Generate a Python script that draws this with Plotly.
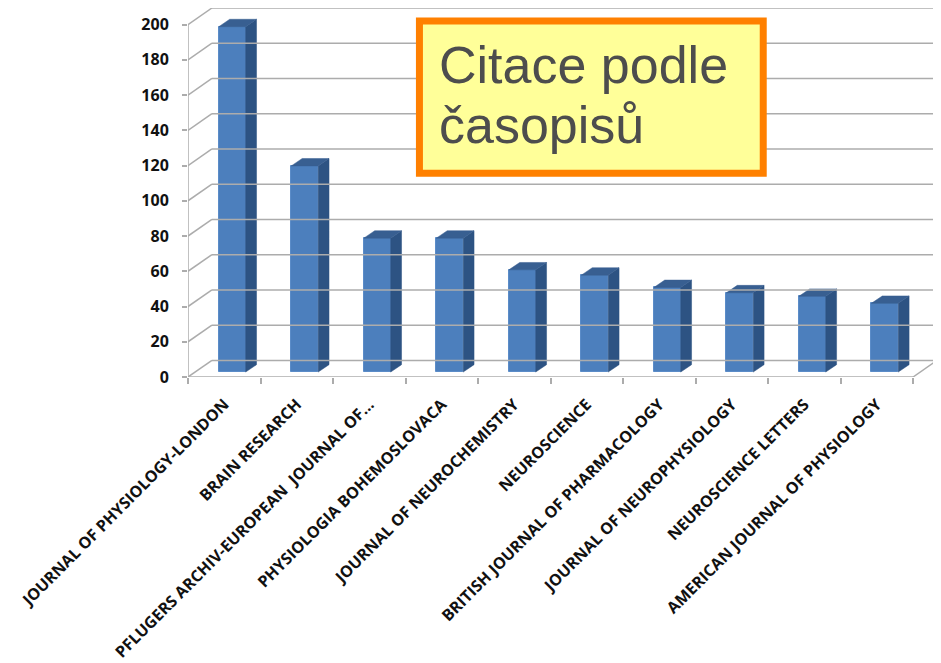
import plotly.graph_objects as go

journals = [
    "JOURNAL OF PHYSIOLOGY-LONDON",
    "BRAIN RESEARCH",
    "PFLUGERS ARCHIV-EUROPEAN  JOURNAL OF...",
    "PHYSIOLOGIA BOHEMOSLOVACA",
    "JOURNAL OF NEUROCHEMISTRY",
    "NEUROSCIENCE",
    "BRITISH JOURNAL OF PHARMACOLOGY",
    "JOURNAL OF NEUROPHYSIOLOGY",
    "NEUROSCIENCE LETTERS",
    "AMERICAN JOURNAL OF PHYSIOLOGY",
]
citations = [196, 117, 76, 76, 58, 55, 48, 45, 43, 39]
y_ticks = [0, 20, 40, 60, 80, 100, 120, 140, 160, 180, 200]

# fake 3-D geometry (data units)
DX, DY = 0.33, 9.4          # wall depth
BX, BY = 0.15, 4.2          # bar depth
BASE = 2.8                  # bar sits a little behind the front edge
OFF, W = 0.11, 0.37         # front face offset and width
GRID = "#acacac"

n = len(journals)
xs = list(range(n))

fig = go.Figure()

# walls / gridlines
shapes = []
for v in y_ticks:
    shapes.append(dict(type="line", x0=-0.5, y0=v, x1=-0.5 + DX, y1=v + DY,
                       line=dict(color=GRID, width=1.5)))
    shapes.append(dict(type="line", x0=-0.5 + DX, y0=v + DY, x1=n - 0.5 + DX, y1=v + DY,
                       line=dict(color=GRID, width=1.5)))
shapes.append(dict(type="line", x0=-0.5, y0=0, x1=n - 0.5, y1=0,
                   line=dict(color=GRID, width=1.5)))
shapes.append(dict(type="line", x0=n - 0.5, y0=0, x1=n - 0.5 + DX, y1=DY,
                   line=dict(color=GRID, width=1.5)))
shapes.append(dict(type="line", x0=-0.5, y0=0, x1=-0.5, y1=y_ticks[-1],
                   line=dict(color=GRID, width=1.5)))

# title box
shapes.append(dict(type="rect", xref="paper", yref="paper",
                   x0=0.309, x1=0.768, y0=0.552, y1=0.965, layer="above",
                   fillcolor="#ffff99", line=dict(color="#ff8000", width=7)))

# front faces
fig.add_trace(go.Bar(
    x=[i + OFF for i in xs], y=citations, base=BASE, width=W,
    marker=dict(color="#4c7fbd", line=dict(color="#5b8cc8", width=1)),
    hoverinfo="skip",
))

side_x, side_y, top_x, top_y = [], [], [], []
for i, v in zip(xs, citations):
    xl = i + OFF - W / 2
    xr = i + OFF + W / 2
    side_x += [xr, xr + BX, xr + BX, xr, xr, None]
    side_y += [BASE, BASE + BY, BASE + v + BY, BASE + v, BASE, None]
    top_x += [xl, xl + BX, xr + BX, xr, xl, None]
    top_y += [BASE + v, BASE + v + BY, BASE + v + BY, BASE + v, BASE + v, None]

fig.add_trace(go.Scatter(x=side_x, y=side_y, mode="lines", fill="toself",
                         fillcolor="#2d5383", line=dict(color="#2d5383", width=0.5),
                         hoverinfo="skip"))
fig.add_trace(go.Scatter(x=top_x, y=top_y, mode="lines", fill="toself",
                         fillcolor="#385f91", line=dict(color="#385f91", width=0.5),
                         hoverinfo="skip"))

title_font = dict(family="Liberation Sans, Arial, sans-serif", size=52, color="#4d4d4d")
for text, ypos in [("Citace podle", 0.846), ("časopisů", 0.683)]:
    fig.add_annotation(xref="paper", yref="paper", x=0.333, y=ypos,
                       xanchor="left", yanchor="middle", text=text,
                       showarrow=False, font=title_font)

fig.update_layout(
    width=941, height=663,
    margin=dict(l=180, r=12, t=0, b=294),
    paper_bgcolor="white", plot_bgcolor="white",
    showlegend=False, shapes=shapes, bargap=0,
    font=dict(family="Open Sans, sans-serif", color="#111111"),
)
fig.update_xaxes(
    range=[-0.5, n - 0.5 + DX], showgrid=False, zeroline=False, showline=False,
    tickvals=xs, ticktext=[f"<b>{j}</b>" for j in journals], tickangle=-45,
    ticks="", ticklabelstandoff=14, tickfont=dict(size=16), automargin=False,
    minor=dict(tickvals=[i - 0.5 for i in range(n + 1)], ticks="outside",
               ticklen=6, tickcolor=GRID, tickwidth=1.5),
)
fig.update_yaxes(
    range=[0, y_ticks[-1] + DY], showgrid=False, zeroline=False, showline=False,
    tickvals=y_ticks, ticktext=[f"<b>{t}</b>" for t in y_ticks],
    ticks="outside", ticklen=5, tickcolor=GRID, tickwidth=1.5,
    ticklabelstandoff=10, tickfont=dict(size=16), automargin=False,
)

fig.write_html("out.html")
